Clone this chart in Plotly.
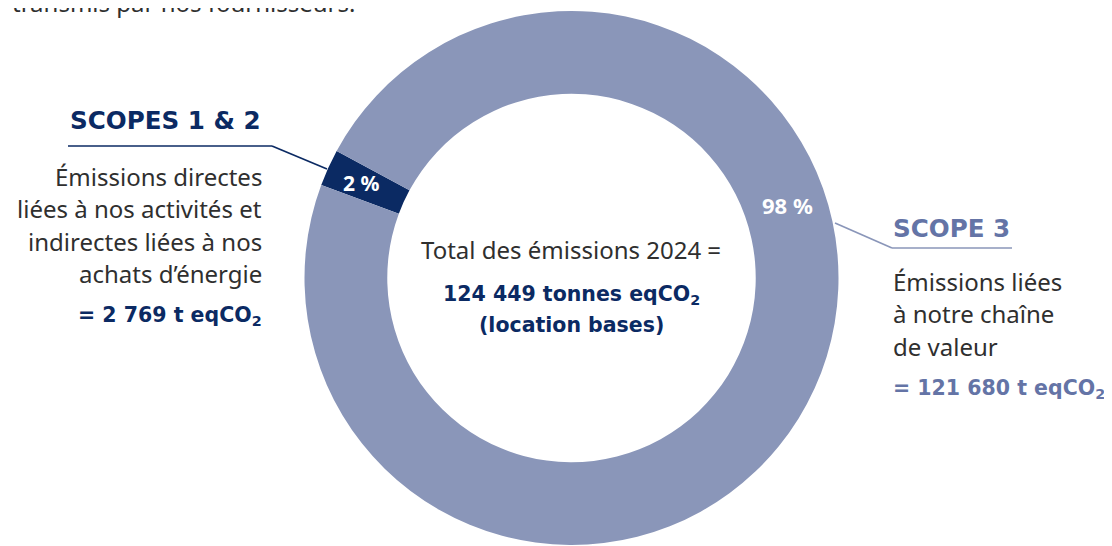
import plotly.graph_objects as go

W, H = 1112, 546
OFF = 8  # browser body margin offset

labels = ["Scopes 1 & 2", "Scope 3"]
values = [2769, 121680]
pct_labels = ["2 %", "98 %"]
colors = ["#0b2a63", "#8a96b9"]

left_title = "SCOPES 1 &amp; 2"
left_body = ["Émissions directes", "liées à nos activités et", "indirectes liées à nos", "achats d’énergie"]
left_total = "= 2 769 t eqCO<sub>2</sub>"
right_title = "SCOPE 3"
right_body = ["Émissions liées", "à notre chaîne", "de valeur"]
right_total = "= 121 680 t eqCO<sub>2</sub>"
center_lines = ["Total des émissions 2024 =", "124 449 tonnes eqCO<sub>2</sub>", "(location bases)"]
top_text = "transmis par nos fournisseurs."

NAVY = "#0b2a63"
SLATE = "#6474a6"
LIGHT = "#8a96b9"
GRAY = "#2f2f2f"
BODY = "Noto Sans"
BOLD = "DejaVu Sans"


def px(x, y):
    # reference window pixel -> paper coords
    return (x - OFF) / W, 1 - (y - OFF) / H


fig = go.Figure()

cx, cy, R = 571.5, 278, 267
x0, y1 = px(cx - R, cy - R)
x1, y0 = px(cx + R, cy + R)
fig.add_trace(go.Pie(
    labels=labels, values=values, hole=0.69, sort=False,
    direction="counterclockwise", rotation=-69.6,
    marker=dict(colors=colors, line=dict(width=0)),
    textinfo="none", hoverinfo="label+value+percent",
    domain=dict(x=[x0, x1], y=[y0, y1]),
    showlegend=False,
))

anns = []


def add(text, x, y, size, color, family, bold=False, xanchor="center", yanchor="middle"):
    xx, yy = px(x, y)
    if bold:
        text = "<b>" + text + "</b>"
    anns.append(dict(text=text, x=xx, y=yy, xref="paper", yref="paper", showarrow=False,
                     xanchor=xanchor, yanchor=yanchor, align=xanchor if xanchor != "center" else "center",
                     font=dict(family=family, size=size, color=color)))


# top cut-off text
add(top_text, 10, 21, 24, GRAY, BODY, xanchor="left", yanchor="bottom")

# slice percentages
add(pct_labels[0], 361, 183, 21, "white", BODY, bold=True)
add(pct_labels[1], 787, 205, 22, "white", BODY, bold=True)

# left block
add(left_title, 263, 121, 24.6, NAVY, BOLD, bold=True, xanchor="right")
for i, t in enumerate(left_body):
    add(t, 264, 176 + i * 32.5, 24, GRAY, BODY, xanchor="right")
add(left_total, 264, 316, 20.5, NAVY, BOLD, bold=True, xanchor="right")

# right block
add(right_title, 891, 228, 24.6, SLATE, BOLD, bold=True, xanchor="left")
for i, t in enumerate(right_body):
    add(t, 891, 281 + i * 32.5, 24, GRAY, BODY, xanchor="left")
add(right_total, 891, 389, 20.5, SLATE, BOLD, bold=True, xanchor="left")

# center
add(center_lines[0], 571, 249, 24, GRAY, BODY)
add(center_lines[1], 571, 295, 20.5, NAVY, BOLD, bold=True)
add(center_lines[2], 571, 325, 20.5, NAVY, BOLD, bold=True)


def line(points, color):
    shapes = []
    for (ax, ay), (bx, by) in zip(points[:-1], points[1:]):
        a = px(ax, ay)
        b = px(bx, by)
        shapes.append(dict(type="line", xref="paper", yref="paper", x0=a[0], y0=a[1], x1=b[0], y1=b[1],
                           line=dict(color=color, width=1.7)))
    return shapes


shapes = line([(68, 146), (272, 146), (327, 169)], NAVY) + line([(835, 223), (892, 248), (1012, 248)], LIGHT)

fig.update_layout(width=W, height=H, margin=dict(l=0, r=0, t=0, b=0),
                  paper_bgcolor="white", plot_bgcolor="white",
                  annotations=anns, shapes=shapes)

fig.write_html("out.html")
